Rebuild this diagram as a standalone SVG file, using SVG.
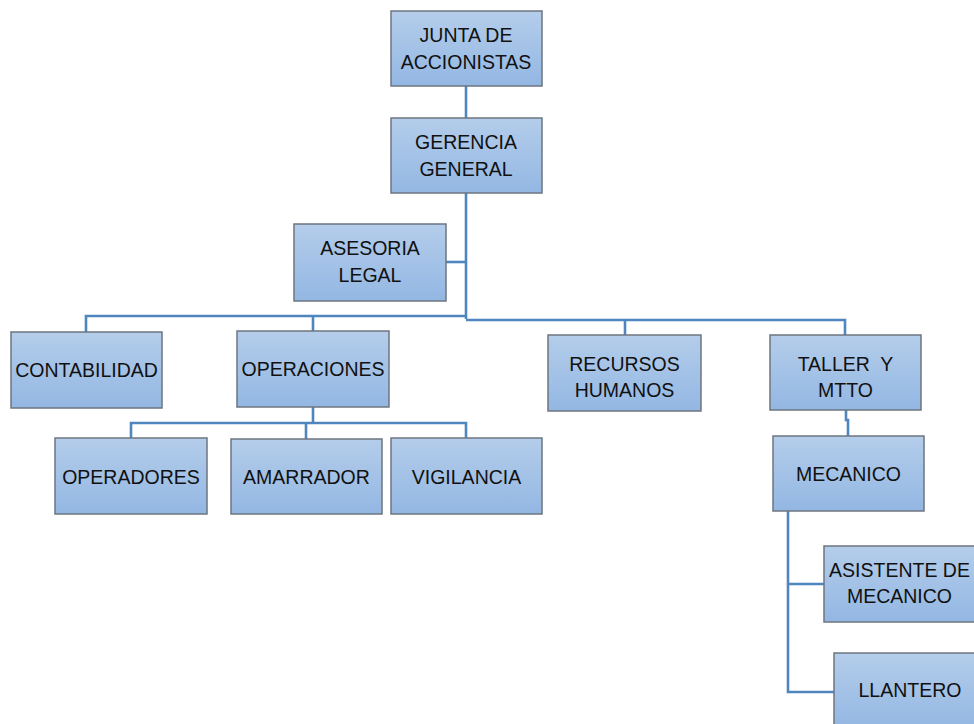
<svg xmlns="http://www.w3.org/2000/svg" width="974" height="724" viewBox="0 0 974 724">
<defs>
<linearGradient id="g" x1="0" y1="0" x2="0" y2="1">
<stop offset="0" stop-color="#b4cdea"/>
<stop offset="1" stop-color="#93b7e3"/>
</linearGradient>
<style>
.b{fill:url(#g);stroke:#6e7580;stroke-width:1.5}
.t{font-family:"Liberation Sans",Arial,sans-serif;font-size:19.5px;fill:#111;text-anchor:middle}
.c{fill:none;stroke:#4f86c0;stroke-width:2.6}
</style>
</defs>
<rect width="974" height="724" fill="#fff"/>
<g id="connectors">
<path class="c" d="M466 86V118"/>
<path class="c" d="M466 193V319"/>
<path class="c" d="M446 262H466"/>
<path class="c" d="M86 332V316H466"/>
<path class="c" d="M313 331V316"/>
<path class="c" d="M466 320H845V335"/>
<path class="c" d="M625 320V335"/>
<path class="c" d="M313 407V423"/>
<path class="c" d="M131 438V423H466V438"/>
<path class="c" d="M306 423V439"/>
<path class="c" d="M846 410V420H848V436"/>
<path class="c" d="M788 511V692H834"/>
<path class="c" d="M788 584H824"/>
</g>
<g id="junta"><rect class="b" x="391" y="11" width="151" height="75"/><text class="t" x="466" y="42">JUNTA DE</text><text class="t" x="466" y="69">ACCIONISTAS</text></g>
<g id="gerencia"><rect class="b" x="391" y="118" width="151" height="75"/><text class="t" x="466" y="149">GERENCIA</text><text class="t" x="466" y="176">GENERAL</text></g>
<g id="asesoria"><rect class="b" x="294" y="224" width="152" height="77"/><text class="t" x="370" y="255">ASESORIA</text><text class="t" x="370" y="282">LEGAL</text></g>
<g id="contabilidad"><rect class="b" x="11" y="332" width="151" height="76"/><text class="t" x="86.5" y="377">CONTABILIDAD</text></g>
<g id="operaciones"><rect class="b" x="237" y="331" width="152" height="76"/><text class="t" x="313" y="376">OPERACIONES</text></g>
<g id="recursos"><rect class="b" x="548" y="335" width="153" height="76"/><text class="t" x="624.5" y="371">RECURSOS</text><text class="t" x="624.5" y="397">HUMANOS</text></g>
<g id="taller"><rect class="b" x="770" y="335" width="151" height="75"/><text class="t" x="845.5" y="371" xml:space="preserve">TALLER  Y</text><text class="t" x="845.5" y="397">MTTO</text></g>
<g id="operadores"><rect class="b" x="55" y="438" width="152" height="76"/><text class="t" x="131" y="484">OPERADORES</text></g>
<g id="amarrador"><rect class="b" x="231" y="439" width="151" height="75"/><text class="t" x="306.5" y="484">AMARRADOR</text></g>
<g id="vigilancia"><rect class="b" x="391" y="438" width="151" height="76"/><text class="t" x="466.5" y="484">VIGILANCIA</text></g>
<g id="mecanico"><rect class="b" x="773" y="436" width="151" height="75"/><text class="t" x="848.5" y="481">MECANICO</text></g>
<g id="asistente"><rect class="b" x="824" y="546" width="151" height="76"/><text class="t" x="899.5" y="577">ASISTENTE DE</text><text class="t" x="899.5" y="603">MECANICO</text></g>
<g id="llantero"><rect class="b" x="834" y="653" width="152" height="76"/><text class="t" x="910" y="697">LLANTERO</text></g>
</svg>
